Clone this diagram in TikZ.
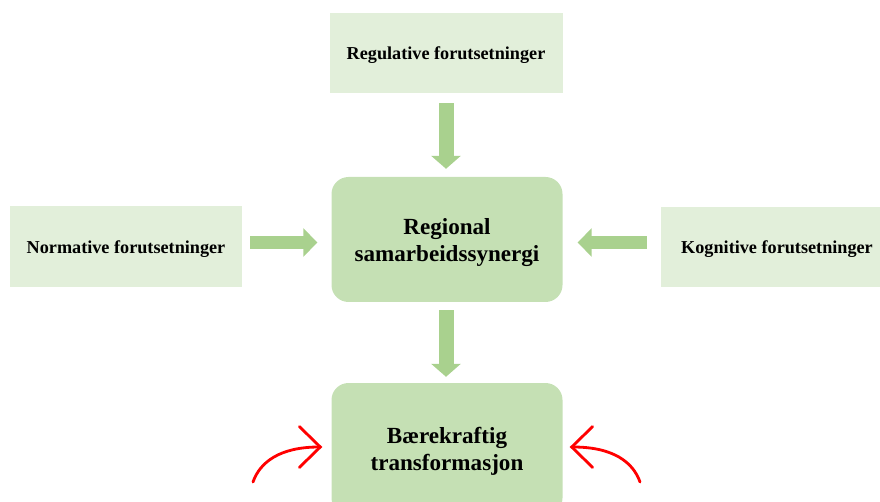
\documentclass[tikz,border=0pt]{standalone}
\usepackage{fontspec}
\setmainfont{Liberation Serif}
\usetikzlibrary{arrows.meta,calc}
\definecolor{paleGreen}{HTML}{E2EFDA}
\definecolor{midGreen}{HTML}{C5E0B4}
\definecolor{arrowGreen}{HTML}{A9D18E}
\tikzset{
  factorbox/.style={fill=paleGreen, draw=none, minimum width=232pt, minimum height=80pt,
    inner sep=0pt},
  factortext/.style={inner sep=0pt, font=\fontsize{18.2}{21}\selectfont\bfseries, align=center},
  corebox/.style={fill=midGreen, draw=none, rounded corners=17pt, minimum width=231pt,
    inner sep=0pt},
  coretext/.style={inner sep=0pt, font=\fontsize{23.1}{27}\selectfont\bfseries, align=center},
  vblock/.style={draw=arrowGreen, line width=15pt,
    -{Triangle[length=13pt,width=29pt]}, arrowGreen},
  hblock/.style={draw=arrowGreen, line width=12.5pt,
    -{Triangle[length=14pt,width=28pt]}, arrowGreen},
  redbend/.style={draw=red, line width=2.8pt, line cap=round,
    -{Straight Barb[length=21pt,width=41pt,line cap=round]}}
}
\begin{document}
\begin{tikzpicture}[x=1pt,y=-1pt]
  \useasboundingbox (0,0) rectangle (880,502);
  \clip (0,0) rectangle (880,502);

  % four boxes around the central synergy
  \node[factorbox, minimum width=233pt] (reg) at (446,53) {};
  \node[factorbox, minimum height=81pt] (norm) at (126,246.5) {};
  \node[factorbox] (kog) at (777,247) {};
  \node[corebox, minimum height=125pt] (syn) at (447,239.5) {};
  \node[corebox, minimum height=132pt] (trans) at (447,449) {};

  % box captions, set slightly below the geometric centres
  \node[factortext] (regT) at ([yshift=-2.5pt]reg.center) {Regulative forutsetninger};
  \node[factortext] (normT) at ([yshift=-2.5pt]norm.center) {Normative forutsetninger};
  \node[factortext] (kogT) at ([yshift=-2.5pt]kog.center) {Kognitive forutsetninger};
  \node[coretext] (synT) at ([yshift=-3pt]syn.center) {Regional\\samarbeidssynergi};
  \node[coretext] (transT) at ([yshift=-2.5pt]trans.center) {Bærekraftig\\transformasjon};

  % block arrows feeding the centre and leading down
  \draw[vblock, shorten <=10pt, shorten >=8pt] (reg.south -| 446,0) -- (syn.north -| 446,0);
  \draw[vblock, shorten <=8pt, shorten >=6pt] (syn.south -| 446,0) -- (trans.north -| 446,0);
  \draw[hblock, shorten <=8pt, shorten >=14pt] ([yshift=-3pt]norm.east |- syn.west) -- ([yshift=-3pt]syn.west);
  \draw[hblock, shorten <=14pt, shorten >=15pt] ([yshift=-3pt]kog.west |- syn.east) -- ([yshift=-3pt]syn.east);

  % curved red arrows pointing at the transformation box
  \coordinate (lfoot) at (253,482);
  \coordinate (rfoot) at (640,482);
  \draw[redbend] (lfoot) .. controls (260,462) and (280,447) .. ([shift={(-9,-2)}]trans.west);
  \draw[redbend] (rfoot) .. controls (633,462) and (613,447) .. ([shift={(7,-2)}]trans.east);
\end{tikzpicture}
\end{document}
